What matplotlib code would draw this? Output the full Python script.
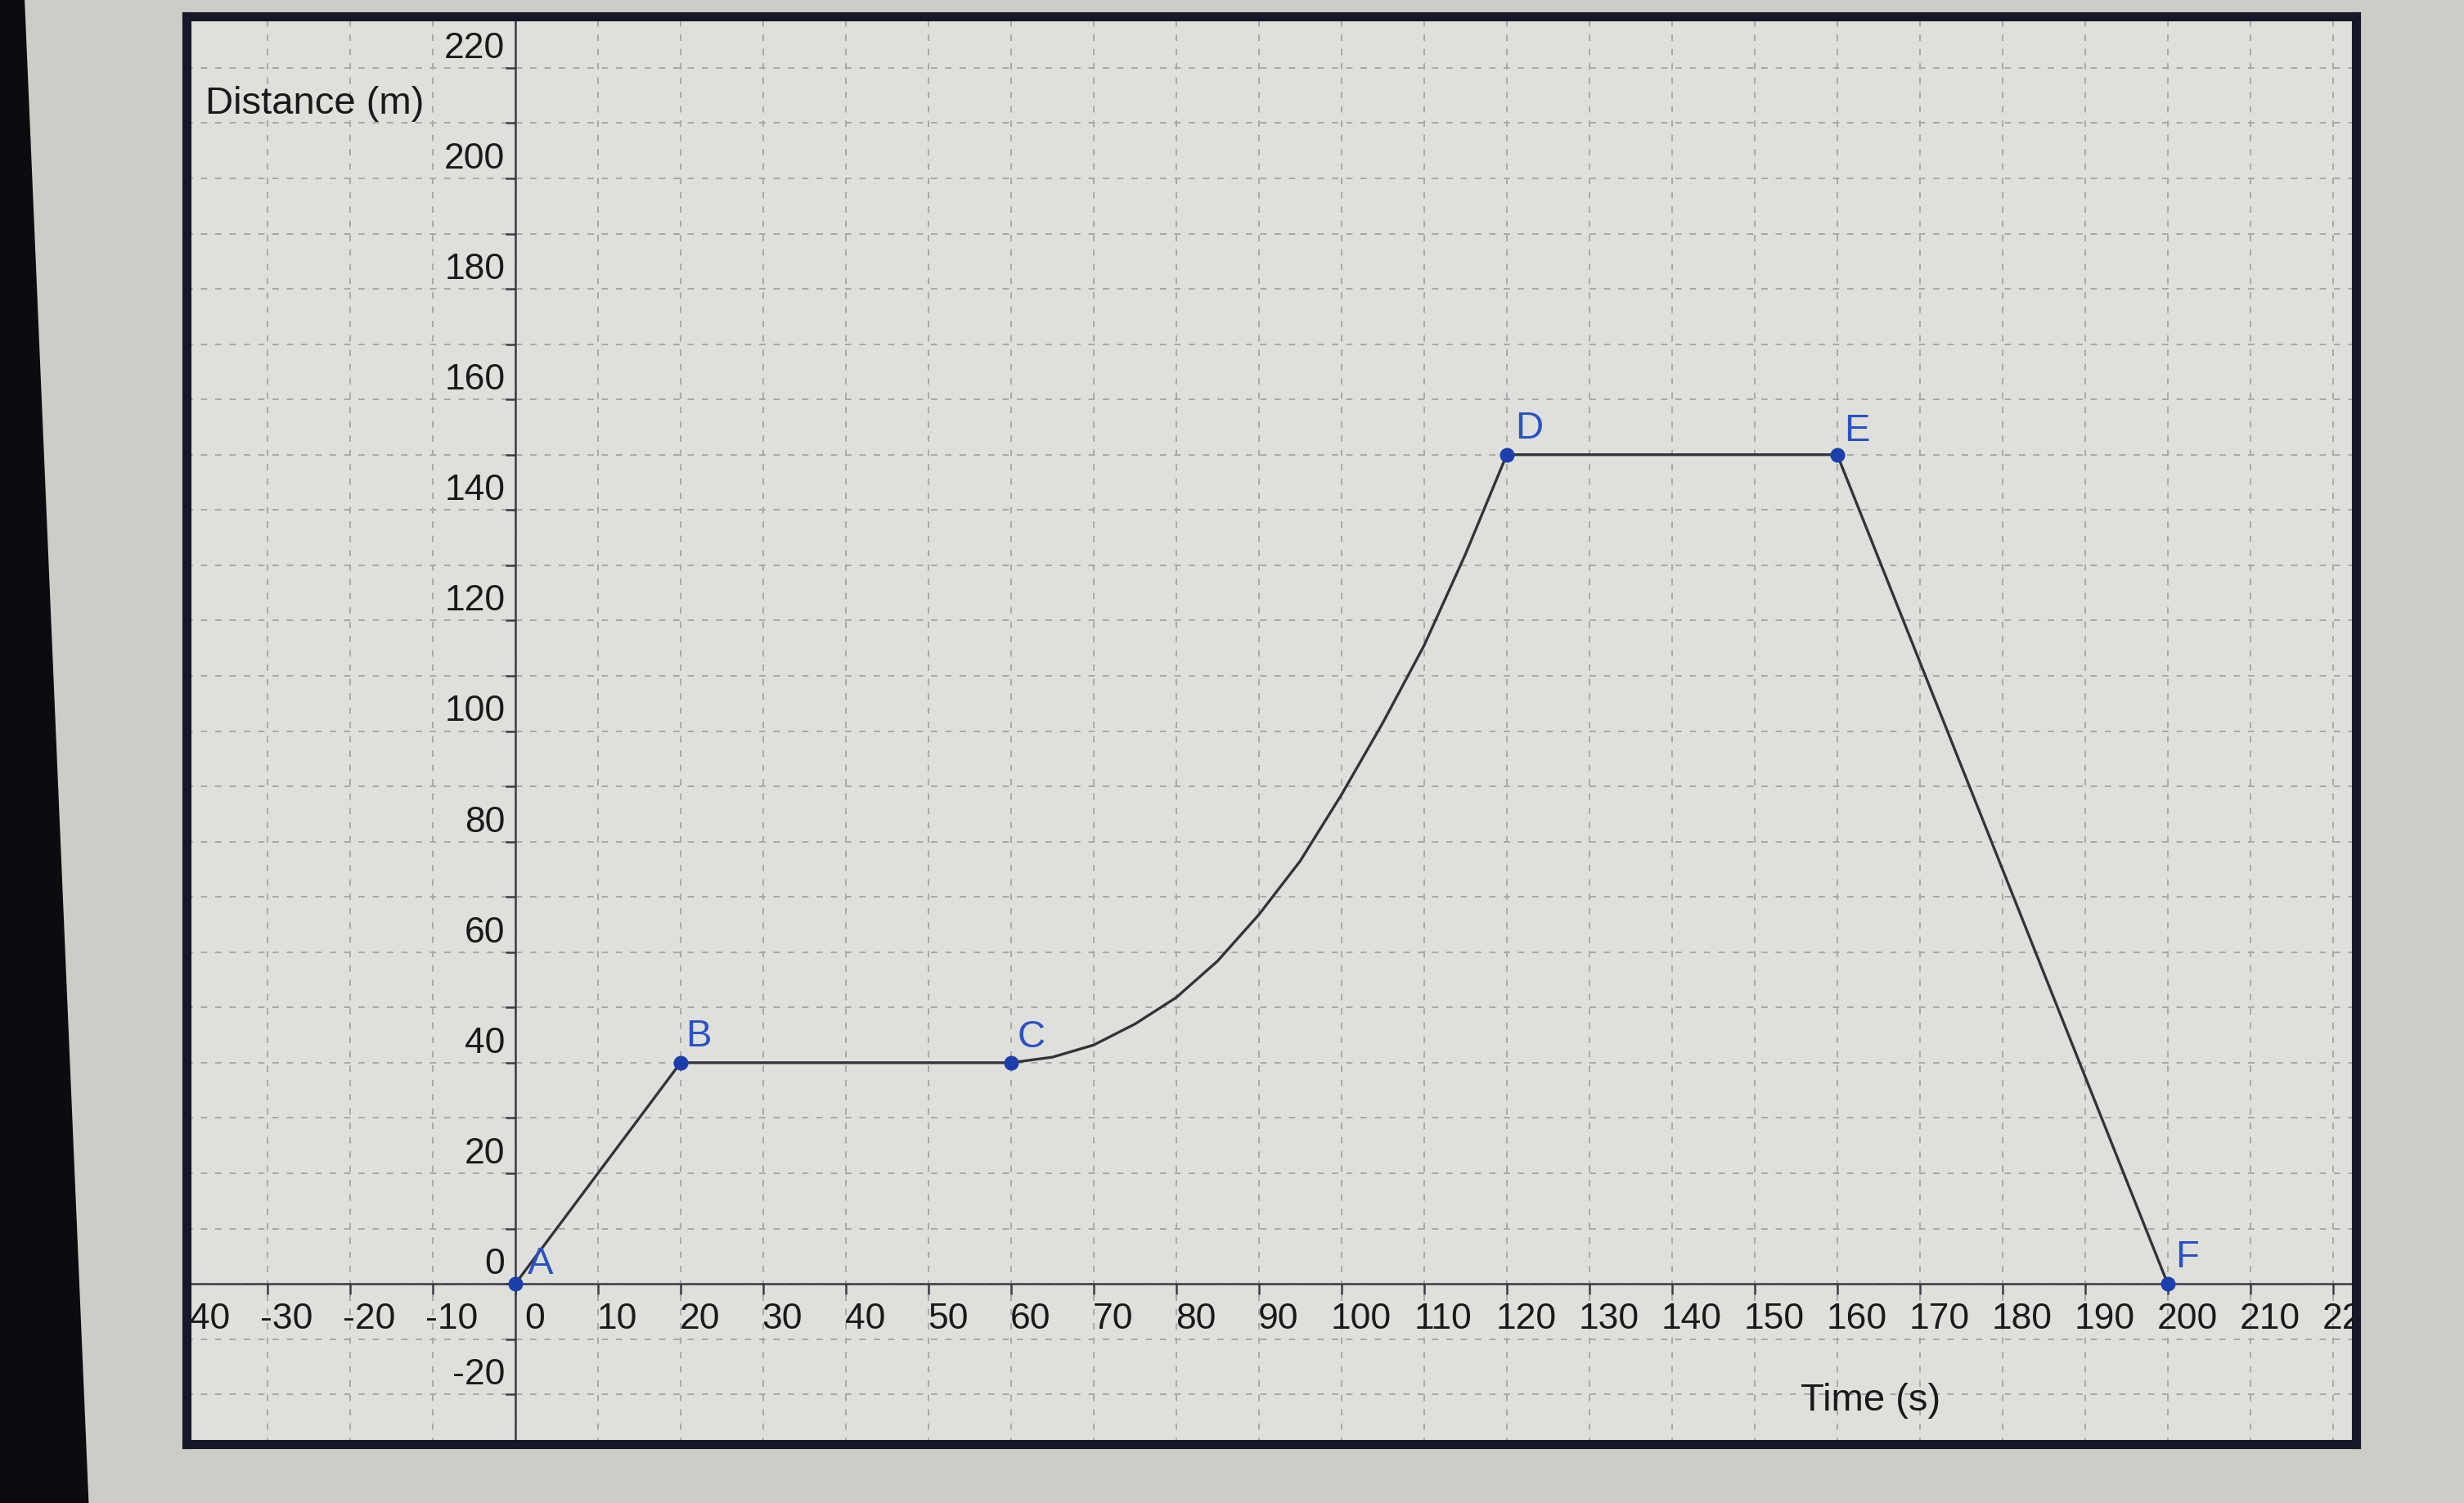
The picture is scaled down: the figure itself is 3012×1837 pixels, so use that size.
import numpy as np
import matplotlib.pyplot as plt
from matplotlib.patches import Polygon

plt.rcParams['font.family'] = ['Liberation Sans', 'DejaVu Sans']

# named points of the journey
point_names = ["A", "B", "C", "D", "E", "F"]
point_time = [0, 20, 60, 120, 160, 200]
point_dist = [0, 40, 40, 150, 150, 0]

# curved part C -> D
curve_time = [60, 65, 70, 75, 80, 85, 90, 95, 100, 105, 110, 115, 120]
curve_dist = [40, 41, 43.2, 47, 51.8, 58.4, 66.8, 76.5, 88.5, 101.5, 115.5, 132, 150]

x_tick_labels = list(range(-40, 221, 10))
y_tick_labels = list(range(-20, 221, 20))
x_grid = list(range(-30, 221, 10))
y_grid = list(range(-20, 221, 10))

# offsets of the point labels (points)
label_offsets = {"A": (22, 17), "B": (16, 23), "C": (18, 22), "D": (20, 23), "E": (17, 21), "F": (17, 23)}

fig = plt.figure(figsize=(30.12, 18.37), dpi=100, facecolor='#cdcdc8')
# dark screen edge on the far left of the photo
fig.patches.append(Polygon([[0, 0], [0.036, 0], [0.010, 1], [0, 1]], closed=True,
                           transform=fig.transFigure, facecolor='#0c0c10', edgecolor='none'))

ax = fig.add_axes([0.0757, 0.0392, 0.8805, 0.9499])
ax.set_facecolor('#dfe0dc')
ax.set_xlim(-39.8, 222.8)
ax.set_ylim(-29, 229.3)

for s in ax.spines.values():
    s.set_linewidth(8)
    s.set_color('#17172a')

# dashed grid
ax.set_xticks(x_grid)
ax.set_yticks(y_grid)
ax.tick_params(length=0, labelbottom=False, labelleft=False)
ax.grid(True, color='#a8a8a8', lw=1.4, linestyle=(0, (4, 5)))
ax.set_axisbelow(True)

# axes through the origin
axis_col = '#3c3c46'
ax.axhline(0, color=axis_col, lw=1.8, zorder=2)
ax.axvline(0, color=axis_col, lw=1.8, zorder=2)
ax.plot(x_tick_labels, np.zeros(len(x_tick_labels)), ls='none', marker=3, ms=9,
        mew=1.8, color=axis_col, zorder=2)
ax.plot(np.zeros(len(y_grid)), y_grid, ls='none', marker=0, ms=9,
        mew=1.8, color=axis_col, zorder=2)

# tick labels, GeoGebra style
for v in x_tick_labels:
    ax.annotate(str(v), (v, 0), xytext=(17, -31), textcoords='offset points',
                ha='center', va='center', fontsize=32, color='#1a1a1a',
                annotation_clip=False, clip_on=True)
for v in y_tick_labels:
    ax.annotate(str(v), (0, v), xytext=(-9, 17), textcoords='offset points',
                ha='right', va='center', fontsize=32, color='#1a1a1a', clip_on=True)

# the graph
line_col = '#333338'
ax.plot(point_time[:3], point_dist[:3], color=line_col, lw=2.4, zorder=3)
ax.plot(curve_time, curve_dist, color=line_col, lw=2.4, zorder=3)
ax.plot(point_time[3:], point_dist[3:], color=line_col, lw=2.4, zorder=3)
ax.plot(point_time, point_dist, ls='none', marker='o', ms=12, color='#1c3fae', zorder=4)
for name, t, d in zip(point_names, point_time, point_dist):
    ax.annotate(name, (t, d), xytext=label_offsets[name], textcoords='offset points',
                ha='center', va='center', fontsize=34, color='#2a52c4', zorder=5)

ax.text(-37.5, 213.5, "Distance (m)", fontsize=34, color='#1a1a1a', ha='left', va='center')
ax.text(164, -21.2, "Time (s)", fontsize=34, color='#1a1a1a', ha='center', va='center')

fig.savefig("out.png", dpi=100, facecolor=fig.get_facecolor())
